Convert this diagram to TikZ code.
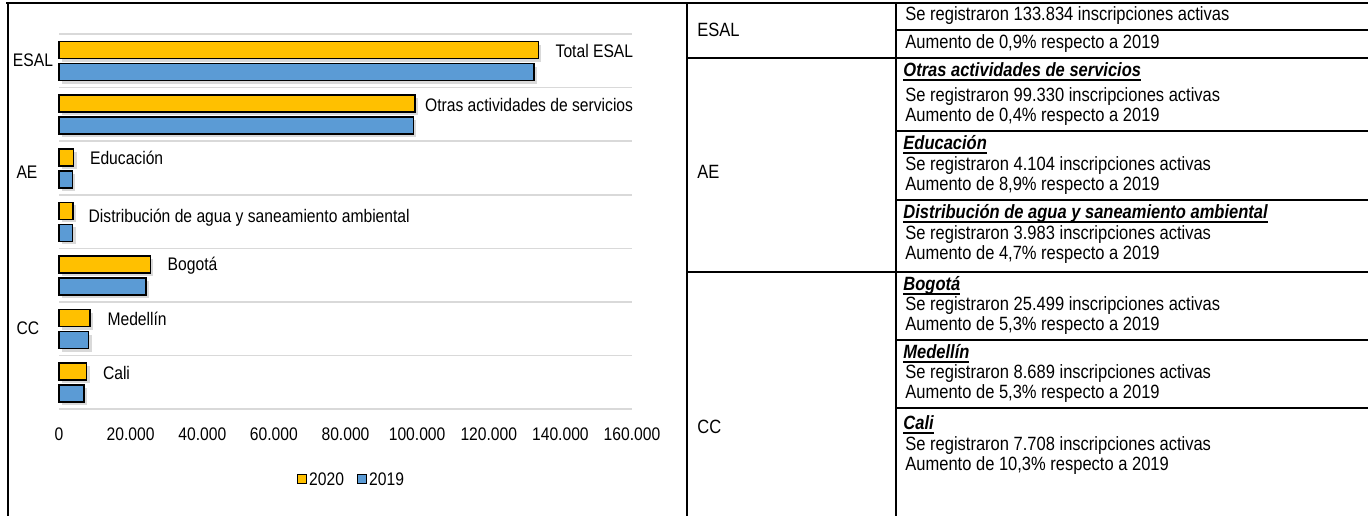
\documentclass[tikz,border=0pt]{standalone}
\usepackage{fontspec}
\setmainfont{Liberation Sans}[FakeStretch=0.86]
\usetikzlibrary{positioning}
\usetikzlibrary{shadows}

\definecolor{gold20}{HTML}{FFC000}
\definecolor{blue19}{HTML}{5B9BD5}
\definecolor{gridgray}{HTML}{D9D9D9}

\newsavebox{\hdrbox}
\newcommand{\hdrline}[1]{\sbox{\hdrbox}{#1}\rlap{\rule[-2.2pt]{\wd\hdrbox}{0.9pt}}\usebox{\hdrbox}}

\tikzset{
  bar/.style={draw=black, line width=0.8pt, anchor=west, minimum height=8.5pt,
    inner sep=0pt, outer sep=0pt,
    drop shadow={shadow xshift=1.5pt, shadow yshift=-1.5pt, opacity=0.3}},
  bar20/.style={bar, fill=gold20, minimum width=#1*1.790625pt},
  bar19/.style={bar, fill=blue19, minimum width=#1*1.790625pt},
  lbl/.style={font=\fontsize{9.1}{10}\selectfont, inner sep=0pt},
  cell/.style={font=\fontsize{9.6}{11}\selectfont, inner sep=0pt, anchor=west},
  head/.style={cell, font=\fontsize{9.6}{11}\selectfont\bfseries\itshape},
  rule/.style={line width=0.9pt},
}

\begin{document}
\begin{tikzpicture}[x=0.5pt, y=-0.5pt]
\useasboundingbox (0,0) rectangle (1368,516);

% frame of chart and table
\draw[rule] (6,3) -- (1368,3);
\draw[rule] (8,3) -- (8,516);
\draw[rule] (687,3) -- (687,516);
\draw[rule] (896,3) -- (896,516);
\draw[rule] (896,30) -- (1368,30);
\draw[rule] (687,58) -- (1368,58);
\draw[rule] (896,131) -- (1368,131);
\draw[rule] (896,200) -- (1368,200);
\draw[rule] (687,272) -- (1368,272);
\draw[rule] (896,340) -- (1368,340);
\draw[rule] (896,408) -- (1368,408);

% grid of the chart
\draw[gridgray, line width=0.8pt] (59,34) -- (632,34);
\draw[gridgray, line width=0.8pt] (59,87.6) -- (632,87.6);
\draw[gridgray, line width=0.8pt] (59,141.2) -- (632,141.2);
\draw[gridgray, line width=0.8pt] (59,194.8) -- (632,194.8);
\draw[gridgray, line width=0.8pt] (59,248.4) -- (632,248.4);
\draw[gridgray, line width=0.8pt] (59,302) -- (632,302);
\draw[gridgray, line width=0.8pt] (59,355.6) -- (632,355.6);
\draw[gridgray, line width=0.8pt] (59,409.2) -- (632,409.2);

% bars (values in thousands)
\node[bar20=133.834] (esal20) at (59,50) {};
\node[bar19=132.640] (esal19) at (59,72) {};
\node[bar20=99.330] (otr20) at (59,103.6) {};
\node[bar19=98.934] (otr19) at (59,125.6) {};
\node[bar20=4.104] (edu20) at (59,157.2) {};
\node[bar19=3.769] (edu19) at (59,179.2) {};
\node[bar20=3.983] (agua20) at (59,210.8) {};
\node[bar19=3.804] (agua19) at (59,232.8) {};
\node[bar20=25.499] (bog20) at (59,264.4) {};
\node[bar19=24.216] (bog19) at (59,286.4) {};
\node[bar20=8.689] (med20) at (59,318) {};
\node[bar19=8.252] (med19) at (59,340) {};
\node[bar20=7.708] (cali20) at (59,371.6) {};
\node[bar19=6.988] (cali19) at (59,393.6) {};

\node[lbl, right=8.5pt of esal20, yshift=-0.5pt] (lesal) {Total ESAL};
\node[lbl, right=5pt of otr20, yshift=-0.5pt] (lotr) {Otras actividades de servicios};
\node[lbl, right=8pt of edu20, yshift=-0.5pt] (ledu) {Educación};
\node[lbl, right=7.5pt of agua20, yshift=-3.5pt] (lagua) {Distribución de agua y saneamiento ambiental};
\node[lbl, right=8.5pt of bog20, yshift=-0.5pt] (lbog) {Bogotá};
\node[lbl, right=8.5pt of med20, yshift=-0.5pt] (lmed) {Medellín};
\node[lbl, right=8pt of cali20, yshift=-0.5pt] (lcali) {Cali};

% categories and axis
\node[lbl] (cesal) at (33,60) {ESAL};
\node[lbl] (cae) at (27,172) {AE};
\node[lbl] (ccc) at (28,328) {CC};

\node[lbl] (x0) at (59,434) {0};
\node[lbl] (x1) at (130.6,434) {20.000};
\node[lbl] (x2) at (202.3,434) {40.000};
\node[lbl] (x3) at (273.9,434) {60.000};
\node[lbl] (x4) at (345.5,434) {80.000};
\node[lbl] (x5) at (417.1,434) {100.000};
\node[lbl] (x6) at (488.8,434) {120.000};
\node[lbl] (x7) at (560.4,434) {140.000};
\node[lbl] (x8) at (632,434) {160.000};

% legend
\node[draw=black, line width=0.7pt, fill=gold20, minimum size=4.5pt, inner sep=0pt] (k20) at (302,479) {};
\node[lbl, right=0.8pt of k20] (t20) {2020};
\node[draw=black, line width=0.7pt, fill=blue19, minimum size=4.5pt, inner sep=0pt] (k19) at (362,479) {};
\node[lbl, right=0.8pt of k19] (t19) {2019};

% table
\node[cell] (tesal) at (697,30) {ESAL};
\node[cell] (tae) at (697,172) {AE};
\node[cell] (tcc) at (697,427) {CC};

\node[cell] (e1) at (905,16) {Se registraron 133.834 inscripciones activas};
\node[cell] (e2) at (905,44) {Aumento de 0,9\% respecto a 2019};

\node[head] (h1) at (903,72) {\hdrline{Otras actividades de servicios}};
\node[cell] (o1) at (905,97) {Se registraron 99.330 inscripciones activas};
\node[cell] (o2) at (905,117) {Aumento de 0,4\% respecto a 2019};
\node[head] (h2) at (903,145) {\hdrline{Educación}};
\node[cell] (d1) at (905,166) {Se registraron 4.104 inscripciones activas};
\node[cell] (d2) at (905,186) {Aumento de 8,9\% respecto a 2019};
\node[head] (h3) at (903,214) {\hdrline{Distribución de agua y saneamiento ambiental}};
\node[cell] (a1) at (905,235) {Se registraron 3.983 inscripciones activas};
\node[cell] (a2) at (905,255) {Aumento de 4,7\% respecto a 2019};

\node[head] (h4) at (903,286) {\hdrline{Bogotá}};
\node[cell] (b1) at (905,306) {Se registraron 25.499 inscripciones activas};
\node[cell] (b2) at (905,326) {Aumento de 5,3\% respecto a 2019};
\node[head] (h5) at (903,354) {\hdrline{Medellín}};
\node[cell] (m1) at (905,374) {Se registraron 8.689 inscripciones activas};
\node[cell] (m2) at (905,394) {Aumento de 5,3\% respecto a 2019};
\node[head] (h6) at (903,425) {\hdrline{Cali}};
\node[cell] (c1) at (905,446) {Se registraron 7.708 inscripciones activas};
\node[cell] (c2) at (905,466) {Aumento de 10,3\% respecto a 2019};
\end{tikzpicture}
\end{document}
